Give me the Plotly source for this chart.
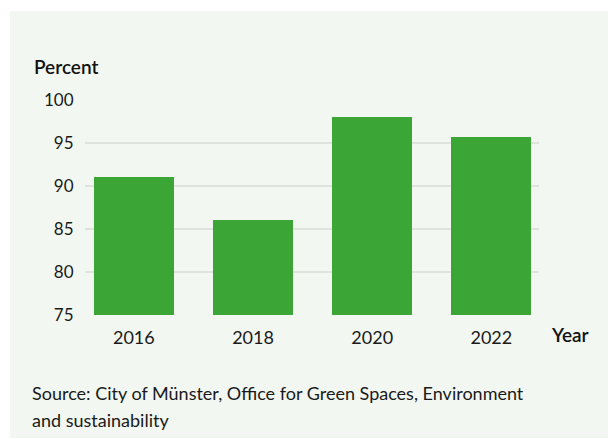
import plotly.graph_objects as go

# Share of green spaces per survey year
years = ["2016", "2018", "2020", "2022"]
percent = [91.0, 86.0, 98.0, 95.7]
y_ticks = [75, 80, 85, 90, 95, 100]
source_lines = [
    "Source: City of Münster, Office for Green Spaces, Environment",
    "and sustainability",
]

W, H = 608, 439
L, R, T, B = 85, 69, 100, 124
pw, ph = W - L - R, H - T - B

def px_x(x):
    return (x - L) / pw

def px_y(y):
    return (H - B - y) / ph

FONT = "Lato"
GREEN = "#3ba535"
PANEL = "#f2f7f1"
TEXT = "#1a1a1a"

fig = go.Figure(
    go.Bar(
        x=list(range(len(years))),
        y=percent,
        width=0.672,
        marker=dict(color=GREEN, line=dict(width=0)),
        hoverinfo="skip",
    )
)

annotations = [
    dict(text="Percent", xref="paper", yref="paper", x=px_x(32), y=px_y(67),
         xanchor="left", yanchor="middle", showarrow=False,
         font=dict(family=FONT, size=19, color="#111111", weight=600)),
    dict(text="Year", xref="paper", yref="paper", x=px_x(549), y=px_y(334),
         xanchor="left", yanchor="middle", showarrow=False,
         font=dict(family=FONT, size=19, color="#111111", weight=600)),
]
for i, line in enumerate(source_lines):
    annotations.append(
        dict(text=line, xref="paper", yref="paper", x=px_x(30), y=px_y(393 + 27 * i),
             xanchor="left", yanchor="middle", align="left", showarrow=False,
             font=dict(family=FONT, size=18, color=TEXT))
    )

fig.update_layout(
    width=W,
    height=H,
    margin=dict(l=L, r=R, t=T, b=B),
    paper_bgcolor="white",
    plot_bgcolor="rgba(0,0,0,0)",
    font=dict(family=FONT, size=16, color=TEXT),
    showlegend=False,
    bargap=0,
    shapes=[
        dict(
            type="rect", xref="paper", yref="paper", layer="below",
            x0=px_x(10), x1=px_x(608), y0=px_y(438), y1=px_y(11),
            fillcolor=PANEL, line=dict(width=0),
        )
    ],
    annotations=annotations,
)

fig.update_xaxes(
    range=[-0.41, 3.40],
    tickvals=list(range(len(years))),
    ticktext=years,
    showgrid=False,
    zeroline=False,
    showline=False,
    ticks="outside",
    ticklen=6,
    tickcolor="rgba(0,0,0,0)",
    tickfont=dict(family=FONT, size=18, color=TEXT),
)

fig.update_yaxes(
    range=[75, 100],
    tickvals=y_ticks,
    showgrid=True,
    gridcolor="#dfe3de",
    gridwidth=1.5,
    zeroline=False,
    showline=False,
    ticks="outside",
    ticklen=7,
    tickcolor="rgba(0,0,0,0)",
    tickfont=dict(family=FONT, size=17, color=TEXT),
)

fig.write_html("out.html")
